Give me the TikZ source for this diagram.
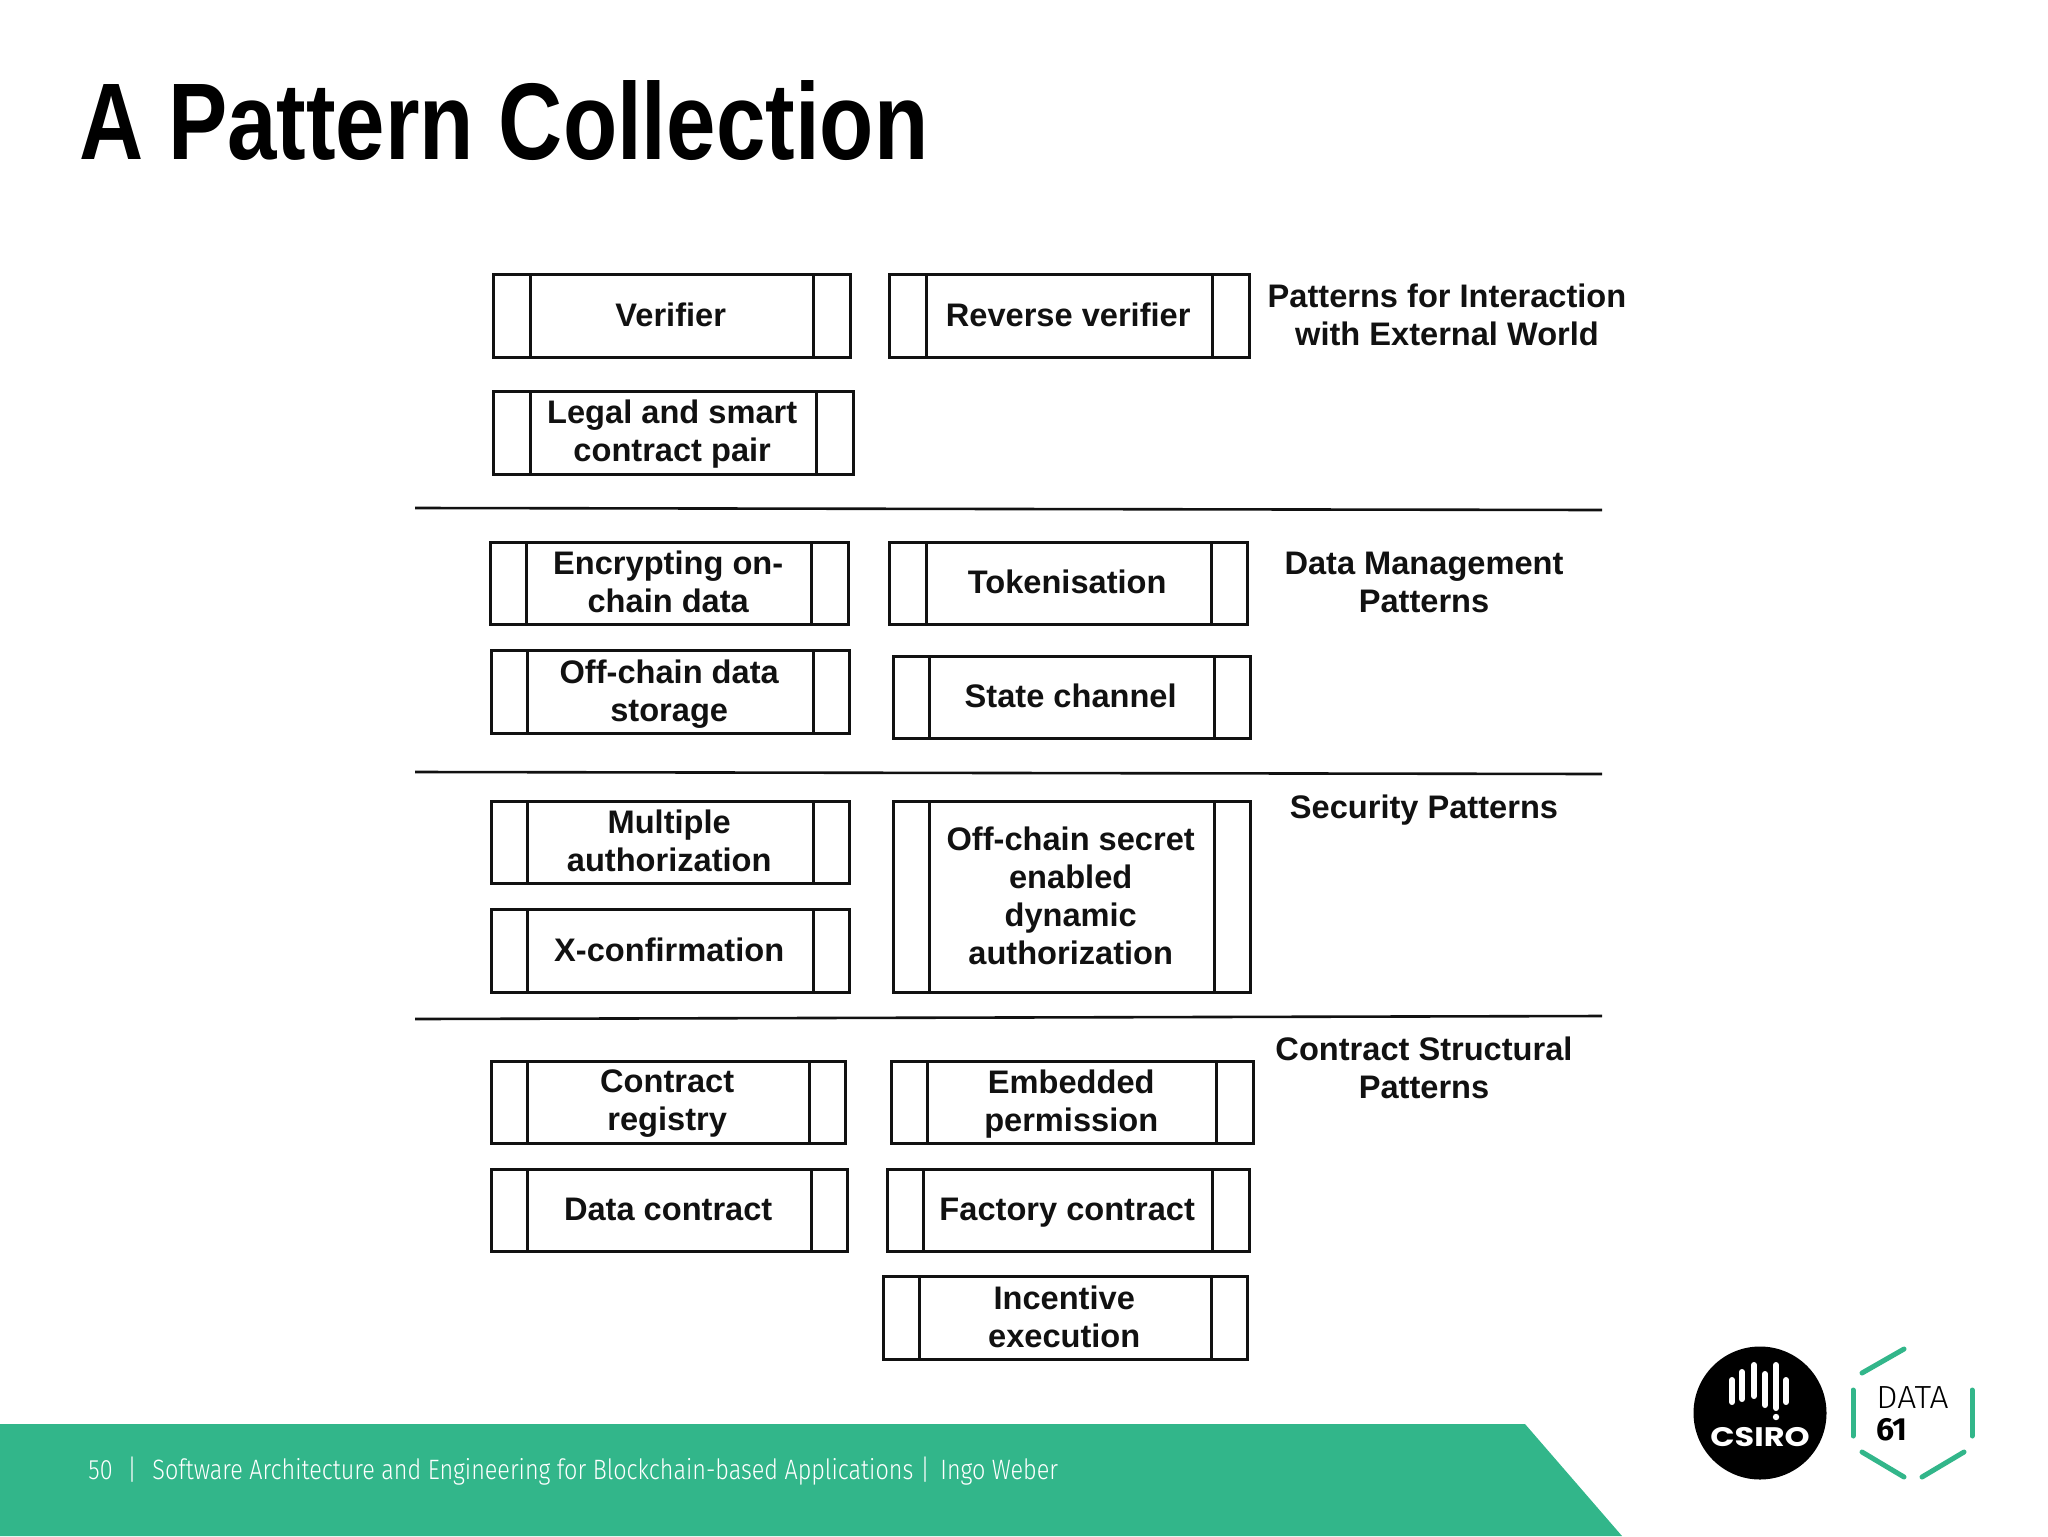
\documentclass[tikz,border=0pt]{standalone}
\usepackage{fontspec}
\usetikzlibrary{calc}
\setmainfont{Liberation Sans}
\newfontfamily\titlefont{Liberation Sans}[FakeStretch=0.815]
\newfontfamily\footfont{Fira Sans Light}[FakeStretch=0.835]
\newfontfamily\datafont{Fira Sans Light}[FakeStretch=1.05]
\newfontfamily\sixtyfont{Fira Sans}[FakeStretch=1.0]
\newfontfamily\logofont{Poppins}[FakeStretch=1.19]
\definecolor{bargreen}{HTML}{32B68A}
\definecolor{inkblack}{HTML}{111111}
\newcommand{\pbox}[9]{%
  \node[patternbox,minimum width={(#4-#2-1)*0.5pt},minimum height={(#5-#3-1)*0.5pt}] (#1) at ({(#2+#4)/2},{(#3+#5)/2}) {};
  \draw[boxline] ($(#1.north west)+(#6,0)$) -- ($(#1.south west)+(#6,0)$);
  \draw[boxline] ($(#1.north east)+(-#7,0)$) -- ($(#1.south east)+(-#7,0)$);
  \node[boxtext] (#1 text) at ($(#1.center)+#8$) {#9};
}
\tikzset{
  boxline/.style={line width=1.4pt,color=inkblack},
  patternbox/.style={draw=inkblack,line width=1.4pt,rectangle,inner sep=0pt,outer sep=0pt},
  boxtext/.style={align=center,inner sep=0pt,font=\fontsize{16.3}{19}\selectfont\bfseries,text=inkblack},
  grouplabel/.style={boxtext},
  separator/.style={line width=1.3pt,color=inkblack},
  foot/.style={anchor=base west,inner sep=0pt,text=white,font=\footfont\fontsize{14}{16}\selectfont},
  hexseg/.style={line width=2.5pt,color=bargreen,line cap=round},
  csirobar/.style={line width=3pt,color=white,line cap=round},
}
\begin{document}
\begin{tikzpicture}[x=0.5pt,y=-0.5pt]
\useasboundingbox (0,0) rectangle (2048,1536);
% title
\node[anchor=base west,inner sep=0pt,font=\titlefont\bfseries\fontsize{54.5}{60}\selectfont,text=black] (title) at (79,159) {A Pattern Collection};
% group 1
\pbox{verifier}{493}{274}{851}{358}{37}{37}{(-1.3,-1.3)}{Verifier}
\pbox{reverse}{889}{274}{1250}{358}{37}{37}{(-1.3,-1.3)}{Reverse verifier}
\pbox{legal}{493}{391}{854}{475}{37}{37}{(-1.3,1.3)}{Legal and smart\\contract pair}
\node[grouplabel] (g1) at (1447,315) {Patterns for Interaction\\with External World};
\coordinate (s1a) at (415,508); \coordinate (s1b) at (1602,510);
\draw[separator] (s1a) -- (s1b);
% group 2
\pbox{encrypt}{490}{542}{849}{625}{36}{37}{(-1.3,-1.3)}{Encrypting on-\\chain data}
\pbox{token}{889}{542}{1248}{625}{37}{36}{(-1.3,-1.3)}{Tokenisation}
\pbox{offdata}{491}{650}{850}{734}{36}{36}{(-1.3,2.6)}{Off-chain data\\storage}
\pbox{state}{893}{656}{1251}{739}{36}{36}{(-1.3,-1.3)}{State channel}
\node[grouplabel] (g2) at (1424,582) {Data Management\\Patterns};
\coordinate (s2a) at (415,772); \coordinate (s2b) at (1602,774);
\draw[separator] (s2a) -- (s2b);
% group 3
\pbox{multi}{491}{801}{850}{884}{36}{36}{(-1.3,-1.3)}{Multiple\\authorization}
\pbox{xconf}{491}{909}{850}{993}{36}{36}{(-1.3,-1.3)}{X-confirmation}
\pbox{secret}{893}{801}{1251}{993}{36}{36}{(-1.3,-1.3)}{Off-chain secret\\enabled\\dynamic\\authorization}
\node[grouplabel] (g3) at (1424,810) {Security Patterns};
\coordinate (s3a) at (415,1019); \coordinate (s3b) at (1602,1016);
\draw[separator] (s3a) -- (s3b);
% group 4
\pbox{registry}{491}{1061}{846}{1144}{36}{36}{(-1.3,1.3)}{Contract\\registry}
\pbox{embedded}{891}{1061}{1254}{1144}{36}{37}{(-1.3,1.3)}{Embedded\\permission}
\pbox{data}{491}{1169}{848}{1252}{36}{36}{(-1.3,-1.3)}{Data contract}
\pbox{factory}{887}{1169}{1250}{1252}{36}{37}{(-1.3,2.6)}{Factory contract}
\pbox{incentive}{883}{1276}{1248}{1360}{36}{36}{(-1.3,-1.3)}{Incentive\\execution}
\node[grouplabel] (g4) at (1424,1068) {Contract Structural\\Patterns};
% footer
\fill[bargreen] (0,1424) -- (1525,1424) -- (1622,1536) -- (0,1536) -- cycle;
\node[foot] (fnum) at (88,1479) {50};
\node[foot] (fsep1) at (127,1479) {|};
\node[foot] (ftext) at (152,1479) {Software Architecture and Engineering for Blockchain-based Applications};
\node[foot] (fsep2) at (920,1479) {|};
\node[foot] (fname) at (940,1479) {Ingo Weber};
% CSIRO logo
\fill[black] (1760,1413) circle[radius=66.5];
\foreach \xx/\ya/\yb in {1732/1380/1402,1742/1372/1399,1754/1365/1396,1765/1374/1405,1776/1365/1408,1786/1380/1402}
  \draw[csirobar] (\xx,\ya) -- (\xx,\yb);
\fill[white] (1776,1417) circle[radius=3.2];
\node[inner sep=0pt,text=white,font=\logofont\bfseries\fontsize{13.4}{14}\selectfont] (csiro) at (1760,1437) {CSIRO};
% DATA61 logo
\draw[hexseg] (1862,1373) -- (1904,1349);
\draw[hexseg] (1853,1390) -- (1853,1436);
\draw[hexseg] (1862,1452) -- (1904,1477);
\draw[hexseg] (1922,1477) -- (1964,1452);
\draw[hexseg] (1972,1390) -- (1972,1436);
\node[anchor=base west,inner sep=0pt,text=black,font=\datafont\fontsize{16}{16}\selectfont] (data61a) at (1876,1408) {DATA};
\node[anchor=base west,inner sep=0pt,text=black,font=\sixtyfont\bfseries\fontsize{16}{16}\selectfont] (data61b) at (1876,1440) {61};
\end{tikzpicture}
\end{document}
